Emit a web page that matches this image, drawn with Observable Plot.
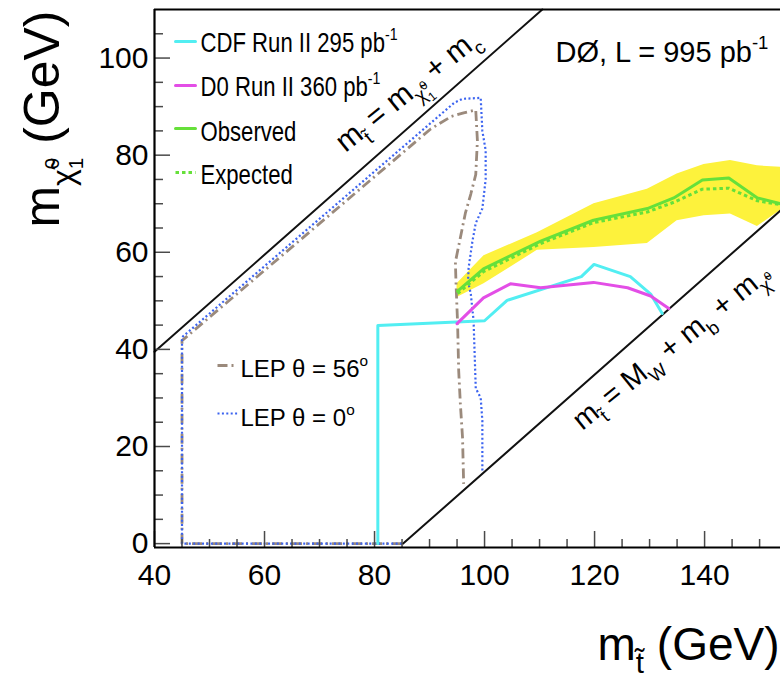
<!DOCTYPE html>
<html><head><meta charset="utf-8">
<script src="https://cdn.jsdelivr.net/npm/d3@7"></script>
<script src="https://cdn.jsdelivr.net/npm/@observablehq/plot@0.6"></script>
<style>
html,body{margin:0;padding:0;background:#fff;overflow:hidden;}
</style>
</head><body>
<div id="chart"></div>
<script>
// ---------------- data (GeV) ----------------
const xTicks = [40, 60, 80, 100, 120, 140];
const yTicks = [0, 20, 40, 60, 80, 100];

const bandX    = [95, 99.9, 109.6, 119.9, 129.6, 135, 139.9, 144.7, 149.6, 153.8];
const bandHigh = [53.5, 59.3, 64.0, 70.0, 73.0, 76.1, 78.1, 78.9, 77.8, 77.5];
const bandLow  = [50.7, 53.5, 60.4, 61.0, 61.8, 66.5, 67.5, 67.9, 65.3, 68.6];

const limitX    = [95.1, 99.8, 110.2, 119.8, 129.6, 134.4, 139.6, 144.4, 149.6, 153.8];
const observedY = [52.0, 56.6, 62.3, 66.6, 69.0, 71.2, 74.9, 75.3, 71.2, 70.0];
const expectedY = [51.5, 56.0, 61.8, 66.1, 68.3, 70.3, 73.0, 73.2, 70.6, 69.8];

const cdfRun2 = [[80.6,0],[80.6,44.9],[100,45.9],[104.1,50.1],[117.6,55.0],[119.9,57.5],[126.5,55.0],[130.2,51.4],[132.3,47.4]];
const d0Run2  = [[95,45.3],[99.8,50.6],[104.7,53.5],[110.2,52.7],[119.8,53.8],[126,52.7],[130.2,51.0],[133.5,48.4]];

const lepTheta0  = [[85,0],[45,0],[45,42.5],[94.5,90.8],[96,91.6],[99.3,91.8],[99.6,85],[100.2,81],[100.2,75],[99.6,69],[98.4,66],[97.8,62.3],[97.1,56.8],[97,54],[97.5,51.4],[98,46],[98.4,32],[99.3,30],[99.6,25.3],[99.6,15]];
const lepTheta56 = [[85,0],[45,0],[45,41.8],[90.2,85.4],[94,88],[96.2,88.7],[98.4,89.3],[98.7,83],[98.4,76],[97.5,72],[96.5,68],[95.6,63],[94.7,58],[94.8,54],[95.1,45.3],[95.3,35.6],[95.6,28.8],[96,21.8],[96.2,12.3]];

// kinematic boundaries: m_t = m_chi + m_c ; m_t = M_W + m_b + m_chi
const kinUpper = [[40,39.5],[110.5,110]];
const kinLower = [[85.2,0],[153.8,68.6]];

const legendLabels = ["CDF Run II 295 pb^{-1}", "D0 Run II 360 pb^{-1}", "Observed", "Expected"];
const lepLabels = ["LEP θ = 56^{o}", "LEP θ = 0^{o}"];
const expLabel = "DØ, L = 995 pb^{-1}";
const upperLabel = "m_{t̃} = m_{χ̃^{0}_{1}} + m_{c}";
const lowerLabel = "m_{t̃} = M_{W} + m_{b} + m_{χ̃^{0}}";
const xTitle = "m_{t̃} (GeV)";
const yTitle = "m_{χ̃^{0}_{1}} (GeV)";

// ---------------- layout ----------------
const W = 780, H = 678, mL = 154, mT = 9, mB = 131, mR = 0;
const xDom = [40, 153.8], yDom = [-0.8, 110];
const kx = (W - mL - mR) / (xDom[1] - xDom[0]);
const ky = (H - mT - mB) / (yDom[1] - yDom[0]);
const X = px => xDom[0] + (px - mL) / kx;
const Y = py => yDom[0] + (H - mB - py) / ky;

const C = {cyan: "#52eef2", magenta: "#e34ee6", green: "#66e03a", yellow: "#fdf23c", blue: "#3b63f0", brown: "#9b8a7c"};
const styles = [
  {stroke: C.cyan, strokeWidth: 3},
  {stroke: C.magenta, strokeWidth: 3},
  {stroke: C.green, strokeWidth: 3},
  {stroke: C.green, strokeWidth: 3, strokeDasharray: "3.5,3", strokeLinecap: "butt"}
];
const lepStyles = [
  {stroke: C.brown, strokeWidth: 2.8, strokeDasharray: "10,4,2,4", strokeLinecap: "butt"},
  {stroke: C.blue, strokeWidth: 2.2, strokeDasharray: "2,2.4", strokeLinecap: "butt"}
];
const legRowsLine = [41, 85, 128, 172], legRowsText = [43, 87, 132, 175];
const lepRowsLine = [365, 413], lepRowsText = [369, 418];

const pts = a => a.map(([x, y]) => ({x, y}));
const band = bandX.map((x, i) => ({x, lo: bandLow[i], hi: bandHigh[i]}));
const obs = limitX.map((x, i) => ({x, y: observedY[i]}));
const exp = limitX.map((x, i) => ({x, y: expectedY[i]}));

const range = (a, b, s) => d3.range(a, b + 1e-9, s);
const xMinor = range(40, 150, 5).filter(v => v % 20 !== 0);
const yMinor = range(0, 105, 5).filter(v => v % 20 !== 0);
const tickCol = "#4a4a4a";

const xTickSegs = (vals, len) => vals.map(v => ({x: v, y1: yDom[0], y2: yDom[0] + len / ky}));
const yTickSegs = (vals, len) => vals.map(v => ({y: v, x1: xDom[0], x2: xDom[0] + len / kx}));

const legendMarks = [];
legendLabels.forEach((lab, i) => {
  legendMarks.push(Plot.line([{x: X(175), y: Y(legRowsLine[i])}, {x: X(195), y: Y(legRowsLine[i])}], {x: "x", y: "y", ...styles[i]}));
  legendMarks.push(Plot.text([{x: X(200), y: Y(legRowsText[i]), t: lab}], {x: "x", y: "y", text: "t", textAnchor: "start", fontSize: 27}));
});
lepLabels.forEach((lab, i) => {
  legendMarks.push(Plot.line([{x: X(217), y: Y(lepRowsLine[i])}, {x: X(237), y: Y(lepRowsLine[i])}], {x: "x", y: "y", ...lepStyles[i]}));
  legendMarks.push(Plot.text([{x: X(240), y: Y(lepRowsText[i]), t: lab}], {x: "x", y: "y", text: "t", textAnchor: "start", fontSize: 24}));
});

const svg = Plot.plot({
  width: W, height: H,
  marginLeft: mL, marginTop: mT, marginBottom: mB, marginRight: mR,
  style: {fontSize: "30px", fontFamily: "'Liberation Sans', Arial, Helvetica, sans-serif", background: "#fff", color: "#000", overflow: "visible"},
  x: {domain: xDom, ticks: xTicks, tickSize: 0, tickPadding: 16, label: null, tickFormat: d => String(d)},
  y: {domain: yDom, ticks: yTicks, tickSize: 0, tickPadding: 6, label: null, tickFormat: d => String(d)},
  marks: [
    Plot.areaY(band, {x: "x", y1: "lo", y2: "hi", fill: C.yellow}),
    Plot.line(pts(lepTheta56), {x: "x", y: "y", ...lepStyles[0]}),
    Plot.line(pts(lepTheta0), {x: "x", y: "y", ...lepStyles[1]}),
    Plot.line(pts(kinUpper), {x: "x", y: "y", stroke: "#111", strokeWidth: 2}),
    Plot.line(pts(kinLower), {x: "x", y: "y", stroke: "#111", strokeWidth: 2}),
    Plot.line(pts(cdfRun2), {x: "x", y: "y", ...styles[0]}),
    Plot.line(pts(d0Run2), {x: "x", y: "y", ...styles[1]}),
    Plot.line(exp, {x: "x", y: "y", ...styles[3]}),
    Plot.line(obs, {x: "x", y: "y", ...styles[2]}),
    // ticks (inward)
    Plot.ruleX(xTickSegs(xTicks, 16), {x: "x", y1: "y1", y2: "y2", stroke: tickCol, strokeWidth: 1.5}),
    Plot.ruleX(xTickSegs(xMinor, 8), {x: "x", y1: "y1", y2: "y2", stroke: tickCol, strokeWidth: 1.5}),
    Plot.ruleY(yTickSegs(yTicks, 16), {y: "y", x1: "x1", x2: "x2", stroke: tickCol, strokeWidth: 1.5}),
    Plot.ruleY(yTickSegs(yMinor, 9), {y: "y", x1: "x1", x2: "x2", stroke: tickCol, strokeWidth: 1.5}),
    // frame
    Plot.ruleY([yDom[0]], {stroke: "#000", strokeWidth: 2.2}),
    Plot.ruleY([yDom[1]], {stroke: "#000", strokeWidth: 2}),
    Plot.ruleX([xDom[0]], {stroke: "#000", strokeWidth: 2.2}),
    // legend
    ...legendMarks,
    Plot.text([{x: X(555), y: Y(52), t: expLabel}], {x: "x", y: "y", text: "t", textAnchor: "start", fontSize: 29}),
    // boundary labels
    Plot.text([{x: 86, y: 85.5, t: upperLabel}], {x: "x", y: "y", text: "t", rotate: -39, dy: -38, fontSize: 30}),
    Plot.text([{x: 134, y: 48.8, t: lowerLabel}], {x: "x", y: "y", text: "t", rotate: -39, dy: 40, fontSize: 29}),
    // axis titles
    Plot.text([xTitle], {frameAnchor: "bottom-right", text: d => d, textAnchor: "end", lineAnchor: "bottom", dx: -1, dy: 112, fontSize: 46}),
    Plot.text([yTitle], {frameAnchor: "top-left", text: d => d, rotate: -90, textAnchor: "end", lineAnchor: "bottom", dx: -96, dy: 1, fontSize: 50})
  ]
});
document.getElementById("chart").append(svg);

// ---------------- rich text (sub/superscripts) ----------------
function parse(s) {
  const out = []; let i = 0, buf = "";
  while (i < s.length) {
    const c = s[i];
    if (c === "_" || c === "^") {
      if (buf) { out.push({t: "text", s: buf}); buf = ""; }
      i++;
      let inner;
      if (s[i] === "{") {
        let depth = 1, j = i + 1;
        while (j < s.length && depth) { if (s[j] === "{") depth++; else if (s[j] === "}") depth--; j++; }
        inner = s.slice(i + 1, j - 1); i = j;
      } else {
        let j = i + 1; while (j < s.length && /[\u0300-\u036f]/.test(s[j])) j++;
        inner = s.slice(i, j); i = j;
      }
      out.push({t: c === "_" ? "sub" : "sup", children: parse(inner)});
    } else { buf += c; i++; }
  }
  if (buf) out.push({t: "text", s: buf});
  return out;
}
function renderNodes(el, nodes, size, base, state) {
  const made = [];
  for (let k = 0; k < nodes.length; k++) {
    const n = nodes[k];
    if (n.t === "text") {
      const ts = document.createElementNS("http://www.w3.org/2000/svg", "tspan");
      ts.textContent = n.s;
      ts.setAttribute("font-size", size.toFixed(2));
      const d = base - state.cur;
      if (Math.abs(d) > 1e-6) ts.setAttribute("dy", d.toFixed(2));
      if (state.dx) ts.setAttribute("dx", state.dx.toFixed(2));
      state.dx = 0; state.cur = base;
      el.appendChild(ts);
      made.push(ts);
    } else {
      const s = size * 0.64;
      const off = n.t === "sub" ? base + size * 0.3 : base - size * 0.45;
      const sub = renderNodes(el, n.children, s, off, state);
      made.push(...sub);
      if (n.t === "sup" && nodes[k + 1] && nodes[k + 1].t === "sub") {
        let w = 0; sub.forEach(t => { w += t.getComputedTextLength(); });
        state.dx = -w;
      }
    }
  }
  return made;
}
const condensed = new Set(legendLabels);
svg.querySelectorAll("text").forEach(t => {
  const raw = t.textContent;
  if (condensed.has(raw)) t.setAttribute("transform", (t.getAttribute("transform") || "") + " scale(0.82,1)");
  if (/[_^]/.test(raw)) {
    const size = parseFloat(getComputedStyle(t).fontSize);
    while (t.firstChild) t.removeChild(t.firstChild);
    renderNodes(t, parse(raw), size, 0, {cur: 0, dx: 0});
  }
});
</script>
</body></html>
